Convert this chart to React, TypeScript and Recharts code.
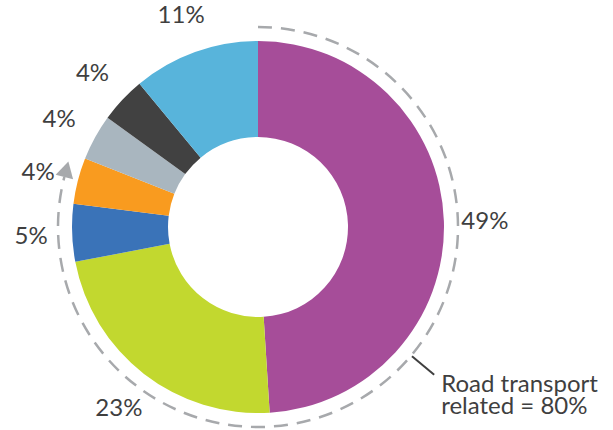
import React from "react";
import { PieChart, Pie, Cell } from "recharts";

const categories = ["Road A", "Road B", "Road C", "Road D", "Other A", "Other B", "Other C"];
const shares = [49, 23, 5, 4, 4, 4, 11];
const colors = ["#A64D99", "#C2D82F", "#3A73B8", "#F99B1F", "#A9B6BF", "#414141", "#58B4DB"];
const groupNames = ["Road transport related", "Other"];
const groupShares = [80, 20];
const annotationLines = ["Road transport", "related = 80%"];

const data = categories.map((name, i) => ({ name, value: shares[i] }));
const groupData = groupNames.map((name, i) => ({ name, value: groupShares[i] }));

const RAD = Math.PI / 180;
const TEXT = "#3F3F3F";
const DASH = "#A7A9AC";
const FONT = "Lato, 'Open Sans', sans-serif";

// recharts angle convention: degrees counter-clockwise from 3 o'clock
const polar = (cx: number, cy: number, r: number, angle: number) => ({
  x: cx + Math.cos(-angle * RAD) * r,
  y: cy + Math.sin(-angle * RAD) * r,
});

const renderValueLabel = (props: any) => {
  const { cx, cy, midAngle, value } = props;
  const p = polar(cx, cy, 227, midAngle);
  return (
    <text
      x={p.x}
      y={p.y}
      textAnchor="middle"
      dominantBaseline="central"
      fill={TEXT}
      fontSize={24}
      fontFamily={FONT}
      fontWeight={400}
    >
      {`${value}%`}
    </text>
  );
};

const renderGroupArc = (props: any) => {
  const { cx, cy, index, startAngle, endAngle } = props;
  if (index !== 0) return null;
  const r = 200;
  const arrowLen = 16;
  const arcEnd = endAngle + 3.5; // dashed arc stops where the arrowhead begins
  const s = polar(cx, cy, r, startAngle);
  const e = polar(cx, cy, r, arcEnd);
  const sweep = startAngle - arcEnd;
  const largeArc = sweep > 180 ? 1 : 0;
  const d = `M ${s.x} ${s.y} A ${r} ${r} 0 ${largeArc} 1 ${e.x} ${e.y}`;
  const a = -arcEnd * RAD;
  const ux = -Math.sin(a);
  const uy = Math.cos(a);
  const tip = { x: e.x + ux * arrowLen, y: e.y + uy * arrowLen };
  const nx = -uy;
  const ny = ux;
  const half = 9;
  const b1 = { x: e.x + nx * half, y: e.y + ny * half };
  const b2 = { x: e.x - nx * half, y: e.y - ny * half };
  const leaderAngle = 90 - 130;
  const l1 = polar(cx, cy, 201, leaderAngle);
  const l2 = polar(cx, cy, 230, leaderAngle);
  const tx = l2.x + 7;
  return (
    <g>
      <path d={d} fill="none" stroke={DASH} strokeWidth={2.5} strokeDasharray="14 9" />
      <polygon points={`${tip.x},${tip.y} ${b1.x},${b1.y} ${b2.x},${b2.y}`} fill={DASH} />
      <line x1={l1.x} y1={l1.y} x2={l2.x} y2={l2.y} stroke={TEXT} strokeWidth={2} />
      <text x={tx} y={l2.y + 17} fill={TEXT} fontSize={24} fontFamily={FONT} fontWeight={400}>
        {annotationLines[0]}
      </text>
      <text x={tx} y={l2.y + 39} fill={TEXT} fontSize={24} fontFamily={FONT} fontWeight={400}>
        {annotationLines[1]}
      </text>
    </g>
  );
};

export default function App() {
  return (
    <div style={{ position: "absolute", left: 0, top: 0, width: 613, height: 430, background: "#fff" }}>
      <PieChart width={613} height={430} margin={{ top: 0, right: 0, bottom: 0, left: 0 }}>
        <Pie
          data={groupData}
          dataKey="value"
          cx={258}
          cy={227}
          startAngle={90}
          endAngle={-270}
          innerRadius={199}
          outerRadius={201}
          fill="none"
          stroke="none"
          label={renderGroupArc}
          labelLine={false}
          isAnimationActive={false}
        >
          {groupData.map((_, i) => (
            <Cell key={i} fill="none" stroke="none" />
          ))}
        </Pie>
        <Pie
          data={data}
          dataKey="value"
          cx={258}
          cy={227}
          startAngle={90}
          endAngle={-270}
          innerRadius={90}
          outerRadius={186}
          stroke="none"
          label={renderValueLabel}
          labelLine={false}
          isAnimationActive={false}
        >
          {data.map((_, i) => (
            <Cell key={i} fill={colors[i]} stroke="none" />
          ))}
        </Pie>
      </PieChart>
    </div>
  );
}
